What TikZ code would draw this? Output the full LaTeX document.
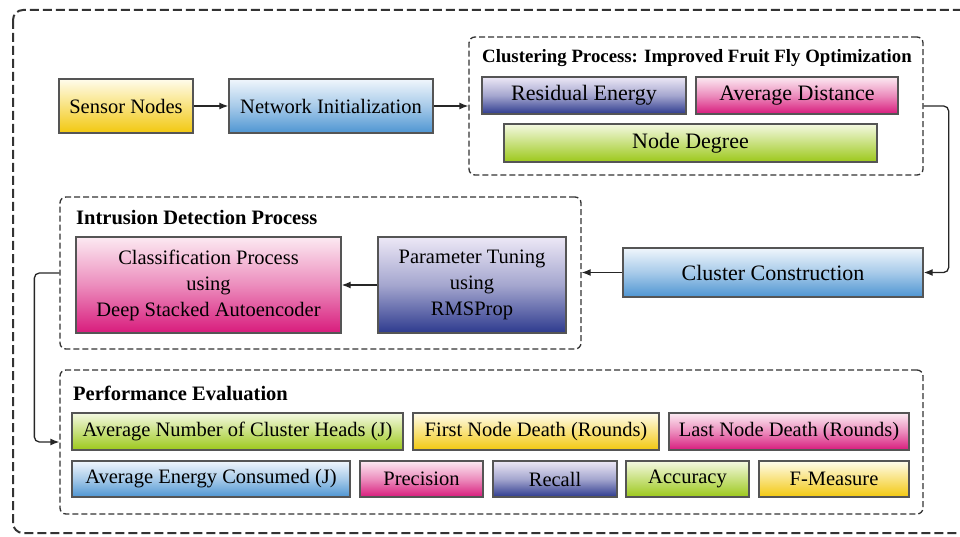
\documentclass[tikz,border=0pt]{standalone}
\usepackage{fontspec}
\setmainfont{Liberation Serif}
\usetikzlibrary{arrows.meta,positioning,calc}
\definecolor{yelB}{HTML}{F2C80F}\definecolor{yelT}{HTML}{FFFCEC}
\definecolor{bluB}{HTML}{4E95D2}\definecolor{bluT}{HTML}{F0F6FC}
\definecolor{purB}{HTML}{2D3A8E}\definecolor{purT}{HTML}{EDE8F6}
\definecolor{pinB}{HTML}{D81B7C}\definecolor{pinT}{HTML}{FCEAF2}
\definecolor{grnB}{HTML}{9CC81A}\definecolor{grnT}{HTML}{F4F9E2}
\definecolor{edge}{HTML}{555555}
\definecolor{dash}{HTML}{333333}
\tikzset{
  box/.style={draw=edge, line width=1.4pt, inner sep=0pt, align=center, text=black, font=\fontsize{20.5}{24}\selectfont},
  yel/.style={box, top color=yelT, bottom color=yelB, middle color=yelT!50!yelB},
  blu/.style={box, top color=bluT, bottom color=bluB, middle color=bluT!55!bluB},
  pur/.style={box, top color=purT, bottom color=purB, middle color=purT!62!purB},
  pin/.style={box, top color=pinT, bottom color=pinB, middle color=pinT!55!pinB},
  grn/.style={box, top color=grnT, bottom color=grnB, middle color=grnT!50!grnB},
  group/.style={draw=dash, line width=1.3pt, dash pattern=on 6pt off 3pt, rounded corners=6pt, inner sep=0pt},
  title/.style={anchor=west, inner sep=0pt, font=\bfseries\fontsize{20.5}{24}\selectfont, text=black},
  arr/.style={line width=1.3pt, draw=black!85, -{Latex[length=9pt,width=7pt]}, rounded corners=5pt}
}
\begin{document}
\begin{tikzpicture}[x=1pt,y=-1pt]
\useasboundingbox (0,0) rectangle (960,537);
\clip (0,0) rectangle (960,537);
\draw[draw=dash, line width=2pt, dash pattern=on 9pt off 4pt, rounded corners=10pt] (13,10) rectangle (990,533);
% top row
\node[yel, minimum width=134pt, minimum height=54pt] (sensor) at (126,106) {Sensor Nodes};
\node[blu, minimum width=204pt, minimum height=54pt] (netinit) at (331,106) {Network Initialization};
% clustering group
\node[group, minimum width=454pt, minimum height=138pt] (cgroup) at (696,106) {};
\node[title, font=\bfseries\fontsize{18.8}{22}\selectfont] (ctitle) at (482,58) {Clustering Process: Improved Fruit Fly Optimization};
\node[pur, minimum width=204pt, minimum height=37pt, font=\fontsize{22}{26}\selectfont] (resid) at (584,95.5) {Residual Energy};
\node[pin, minimum width=202pt, minimum height=37pt, font=\fontsize{22}{26}\selectfont] (avgd) at (797,95.5) {Average Distance};
\node[grn, minimum width=373pt, minimum height=38pt, font=\fontsize{22}{26}\selectfont] (degree) at (690.5,143) {Node Degree};
% cluster construction
\node[blu, minimum width=300pt, minimum height=49pt, font=\fontsize{22}{26}\selectfont] (ccons) at (773,272.5) {Cluster Construction};
% intrusion group
\node[group, minimum width=521pt, minimum height=152pt] (igroup) at (320.5,273) {};
\node[title] (ititle) at (76,218) {Intrusion Detection Process};
\node[pin, minimum width=265pt, minimum height=96pt, font=\fontsize{20.5}{26}\selectfont] (classif) at (208.5,285) {Classification Process\\using\\Deep Stacked Autoencoder};
\node[pur, minimum width=188pt, minimum height=96pt, font=\fontsize{20.5}{26}\selectfont] (ptune) at (472,285) {Parameter Tuning\\using\\RMSProp};
% performance group
\node[group, minimum width=863pt, minimum height=144pt] (pgroup) at (491.5,442) {};
\node[title] (ptitle) at (73,393) {Performance Evaluation};
\node[grn, minimum width=331pt, minimum height=37pt] (anch) at (237.5,431.5) {Average Number of Cluster Heads (J)};
\node[yel, minimum width=246pt, minimum height=37pt] (fnd) at (536,431.5) {First Node Death (Rounds)};
\node[pin, minimum width=240pt, minimum height=37pt] (lnd) at (789,431.5) {Last Node Death (Rounds)};
\node[blu, minimum width=278pt, minimum height=36pt] (aec) at (211,479) {Average Energy Consumed (J)};
\node[pin, minimum width=123pt, minimum height=36pt] (prec) at (421.5,479) {Precision};
\node[pur, minimum width=124pt, minimum height=36pt] (recall) at (555,479) {Recall};
\node[grn, minimum width=123pt, minimum height=36pt] (acc) at (687.5,479) {Accuracy};
\node[yel, minimum width=150pt, minimum height=36pt] (fmeas) at (834,479) {F-Measure};
% connectors
\draw[arr] (sensor.east) -- (netinit.west);
\draw[arr] (netinit.east) -- (netinit.east -| cgroup.west);
\draw[arr] (cgroup.east) -- ++(25,0) |- (ccons.east);
\draw[arr] (ccons.west) -- (ccons.west -| igroup.east);
\draw[arr] (ptune.west) -- (classif.east);
\draw[arr] (igroup.west) -- ++(-25,0) |- (pgroup.west);
\end{tikzpicture}
\end{document}
